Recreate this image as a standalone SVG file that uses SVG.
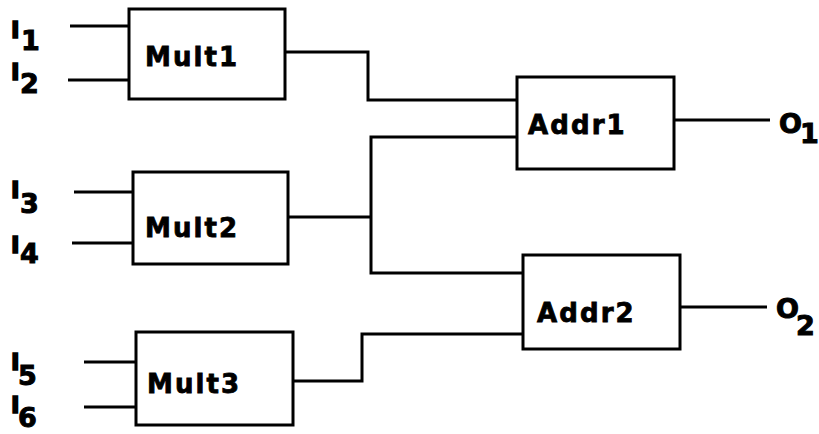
<svg xmlns="http://www.w3.org/2000/svg" width="819" height="434" viewBox="0 0 819 434">
<style>
.box{fill:#fff;stroke:#000;stroke-width:3}
.wire{fill:none;stroke:#000;stroke-width:3}
.lbl{font-family:"DejaVu Sans",sans-serif;font-weight:bold;font-size:26px;letter-spacing:2.1px;fill:#000;stroke:#000;stroke-width:0.8px}
.io{font-family:"DejaVu Sans",sans-serif;font-weight:bold;font-size:23px;fill:#000;stroke:#000;stroke-width:1.6px}
.sub{font-family:"DejaVu Sans",sans-serif;font-weight:bold;font-size:27px;fill:#000;stroke:#000;stroke-width:1px}
</style>
<rect width="819" height="434" fill="#fff"/>
<g id="connectors">
<path class="wire" d="M70 26H129M68 80H129"/>
<path class="wire" d="M74 192H133M72 243H133"/>
<path class="wire" d="M84 362H136M84 407H136"/>
<path class="wire" d="M285 52H368V100H517"/>
<path class="wire" d="M288 217H371"/>
<path class="wire" d="M517 137H371V273H523"/>
<path class="wire" d="M293 381H362V334H523"/>
<path class="wire" d="M674 120H770"/>
<path class="wire" d="M680 307H767"/>
</g>
<g id="mult1"><rect class="box" x="129" y="9" width="156" height="90"/><text class="lbl" x="145" y="66">Mult1</text></g>
<g id="mult2"><rect class="box" x="133" y="172" width="155" height="92"/><text class="lbl" x="145" y="237">Mult2</text></g>
<g id="mult3"><rect class="box" x="136" y="332" width="157" height="93"/><text class="lbl" x="147" y="393">Mult3</text></g>
<g id="addr1"><rect class="box" x="517" y="77" width="157" height="92"/><text class="lbl" x="528" y="134">Addr1</text></g>
<g id="addr2"><rect class="box" x="523" y="255" width="157" height="94"/><text class="lbl" x="537" y="322">Addr2</text></g>
<g id="i1"><text class="io" x="11" y="38">I</text><text class="sub" x="21" y="50">1</text></g>
<g id="i2"><text class="io" x="11" y="80">I</text><text class="sub" x="20" y="93">2</text></g>
<g id="i3"><text class="io" x="11" y="198">I</text><text class="sub" x="20" y="213">3</text></g>
<g id="i4"><text class="io" x="11" y="253">I</text><text class="sub" x="20" y="263">4</text></g>
<g id="i5"><text class="io" x="11" y="370">I</text><text class="sub" x="18" y="385">5</text></g>
<g id="i6"><text class="io" x="11" y="413">I</text><text class="sub" x="18" y="427">6</text></g>
<g id="o1"><text class="io" x="779" y="133" style="font-size:27px;stroke-width:1px">O</text><text class="sub" x="800" y="143">1</text></g>
<g id="o2"><text class="io" x="776" y="318" style="font-size:27px;stroke-width:1px">O</text><text class="sub" x="796" y="335">2</text></g>
</svg>
